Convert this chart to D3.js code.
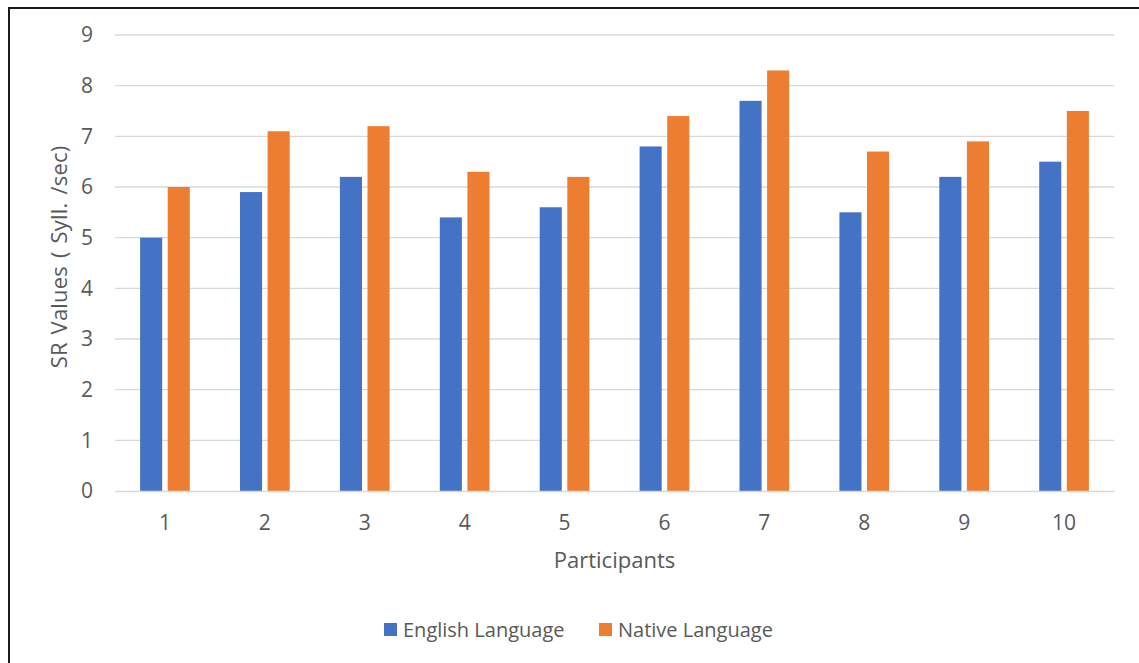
<!DOCTYPE html>
<html>
<head>
<meta charset="utf-8">
<script src="https://cdn.jsdelivr.net/npm/d3@7"></script>
<style>
  body { margin: 0; background: #fff; }
  svg { display: block; font-family: "Open Sans", "Noto Sans", sans-serif; }
  .tick text { fill: #595959; }
</style>
</head>
<body>
<svg id="chart" width="1139" height="663"></svg>
<script>
var participants = ["1", "2", "3", "4", "5", "6", "7", "8", "9", "10"];
var seriesNames = ["English Language", "Native Language"];
var englishValues = [5.0, 5.9, 6.2, 5.4, 5.6, 6.8, 7.7, 5.5, 6.2, 6.5];
var nativeValues = [6.0, 7.1, 7.2, 6.3, 6.2, 7.4, 8.3, 6.7, 6.9, 7.5];
var yTicks = [0, 1, 2, 3, 4, 5, 6, 7, 8, 9];
var colors = ["#4472C4", "#ED7D31"];

var svg = d3.select("#chart");
var margin = { left: 115, right: 25, top: 35, bottom: 172 };
var width = 1139, height = 663;
var fontFamily = '"Open Sans", "Noto Sans", sans-serif';

// chart border (only top and left are visible in the picture)
svg.append("path")
  .attr("d", "M9,663 L9,8 L1139,8")
  .attr("fill", "none")
  .attr("stroke", "#1a1a1a")
  .attr("stroke-width", 2);

var x0 = d3.scaleBand()
  .domain(participants)
  .range([margin.left, width - margin.right]);

var x1 = d3.scaleBand()
  .domain(seriesNames)
  .range([0, x0.bandwidth()])
  .paddingInner(0.2)
  .paddingOuter(0.91);

var y = d3.scaleLinear()
  .domain([0, 9])
  .range([height - margin.bottom, margin.top]);

// gridlines
svg.append("g")
  .selectAll("line")
  .data(yTicks.filter(function(d) { return d > 0; }))
  .enter().append("line")
  .attr("x1", margin.left)
  .attr("x2", width - margin.right)
  .attr("y1", function(d) { return y(d); })
  .attr("y2", function(d) { return y(d); })
  .attr("stroke", "#D9D9D9")
  .attr("stroke-width", 1.3);

// y axis labels
var yAxis = svg.append("g")
  .attr("transform", "translate(" + margin.left + ",0)")
  .call(d3.axisLeft(y).tickValues(yTicks).tickSize(0).tickPadding(22))
  .attr("font-family", fontFamily);
yAxis.select(".domain").remove();
yAxis.selectAll("text").style("font-size", "21px");

// bars
var rows = participants.map(function(p, i) {
  return { key: p, values: [englishValues[i], nativeValues[i]] };
});

var group = svg.append("g").selectAll("g")
  .data(rows)
  .enter().append("g")
  .attr("transform", function(d) { return "translate(" + x0(d.key) + ",0)"; });

group.selectAll("rect")
  .data(function(d) {
    return d.values.map(function(v, j) { return { name: seriesNames[j], value: v, idx: j }; });
  })
  .enter().append("rect")
  .attr("x", function(d) { return x1(d.name); })
  .attr("width", x1.bandwidth())
  .attr("y", function(d) { return y(d.value); })
  .attr("height", function(d) { return y(0) - y(d.value); })
  .attr("fill", function(d) { return colors[d.idx]; });

// x axis
var xAxis = svg.append("g")
  .attr("transform", "translate(0," + y(0) + ")")
  .call(d3.axisBottom(x0).tickSize(0).tickPadding(24))
  .attr("font-family", fontFamily);
xAxis.select(".domain")
  .attr("stroke", "#D9D9D9")
  .attr("stroke-width", 1.5);
xAxis.selectAll("text").style("font-size", "21px");

// axis titles
svg.append("text")
  .attr("x", (margin.left + width - margin.right) / 2)
  .attr("y", 568)
  .attr("text-anchor", "middle")
  .attr("fill", "#595959")
  .style("font-size", "22px")
  .text("Participants");

svg.append("text")
  .attr("transform", "translate(67,257) rotate(-90)")
  .attr("text-anchor", "middle")
  .attr("fill", "#595959")
  .style("font-size", "22px")
  .style("letter-spacing", "0.2px")
  .style("word-spacing", "2px")
  .text("SR Values ( Syll. /sec)");

// legend
var legendX = [384, 599];
var legend = svg.append("g").selectAll("g")
  .data(seriesNames)
  .enter().append("g")
  .attr("transform", function(d, i) { return "translate(" + legendX[i] + ",623)"; });

legend.append("rect")
  .attr("width", 13)
  .attr("height", 13)
  .attr("fill", function(d, i) { return colors[i]; });

legend.append("text")
  .attr("x", 19)
  .attr("y", 14)
  .attr("fill", "#595959")
  .style("font-size", "20px")
  .text(function(d) { return d; });
</script>
</body>
</html>
